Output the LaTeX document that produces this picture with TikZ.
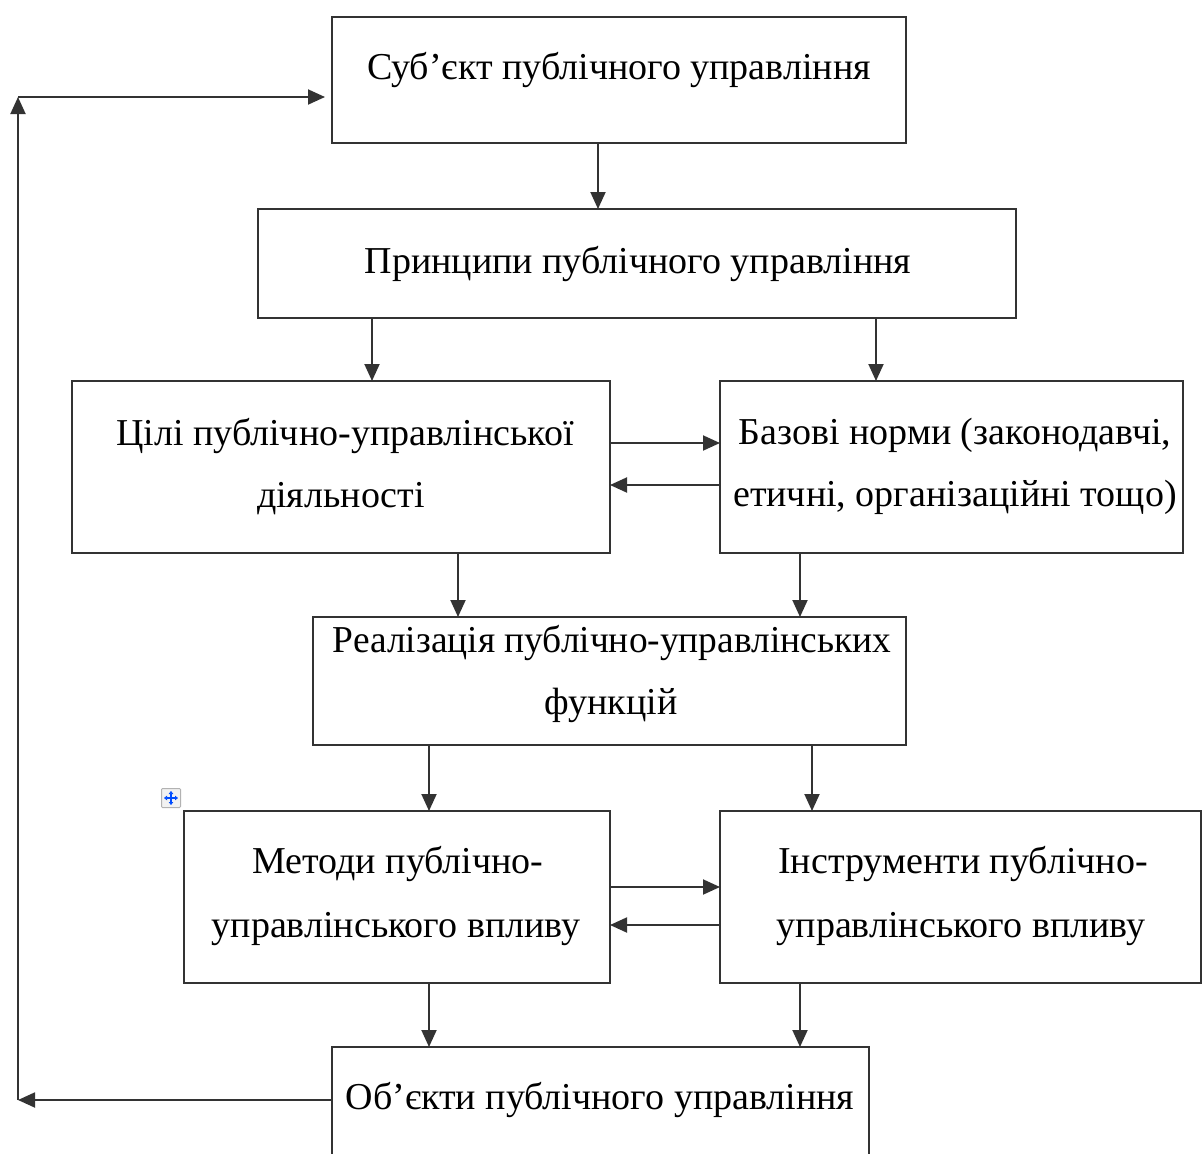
\documentclass[tikz,border=0pt]{standalone}
\usepackage{fontspec}
\setmainfont{Liberation Serif}
\usetikzlibrary{arrows.meta}
\tikzset{
  box/.style={draw=black!80, line width=1.9pt, inner sep=0pt, outer sep=0pt},
  txt/.style={anchor=base, inner sep=0pt, font=\fontsize{38}{44}\selectfont, text=black},
  arr/.style={draw=black!80, line width=1.9pt, -{Triangle[length=17pt,width=15pt]}},
}
\begin{document}
\begin{tikzpicture}[x=1pt,y=-1pt]
\clip (0,0) rectangle (1203,1154);
\fill[white] (0,0) rectangle (1203,1154);
% boxes
\node[box, minimum width=574pt, minimum height=126pt] (s) at (619,80) {};
\node[box, minimum width=758pt, minimum height=109pt] (p) at (637,263.5) {};
\node[box, minimum width=538pt, minimum height=172pt] (c) at (341,467) {};
\node[box, minimum width=463pt, minimum height=172pt] (b) at (951.5,467) {};
\node[box, minimum width=593pt, minimum height=128pt] (r) at (609.5,681) {};
\node[box, minimum width=426pt, minimum height=172pt] (m) at (397,897) {};
\node[box, minimum width=481pt, minimum height=172pt] (i) at (960.5,897) {};
\node[box, minimum width=537pt, minimum height=133pt] (o) at (600.5,1113.5) {};
% texts
\node[txt] (s-t) at (619,79) {Суб’єкт публічного управління};
\node[txt] (p-t) at (638,273) {Принципи публічного управління};
\node[txt] (c-t1) at (345,445) {Цілі публічно-управлінської};
\node[txt] (c-t2) at (341,507) {діяльності};
\node[txt] (b-t1) at (955,444) {Базові норми (законодавчі,};
\node[txt] (b-t2) at (955,506) {етичні, організаційні тощо)};
\node[txt] (r-t1) at (612,652) {\scalebox{0.985}[1]{Реалізація публічно-управлінських}};
\node[txt] (r-t2) at (611,714) {функцій};
\node[txt] (m-t1) at (398,873) {Методи публічно-};
\node[txt] (m-t2) at (396,937) {управлінського впливу};
\node[txt] (i-t1) at (963,873) {Інструменти публічно-};
\node[txt] (i-t2) at (961,937) {управлінського впливу};
\node[txt] (o-t) at (600,1109) {Об’єкти публічного управління};
% vertical arrows
\draw[arr] (s.south -| 598,0) -- (p.north -| 598,0);
\draw[arr] (p.south -| 372,0) -- (c.north -| 372,0);
\draw[arr] (p.south -| 876,0) -- (b.north -| 876,0);
\draw[arr] (c.south -| 458,0) -- (r.north -| 458,0);
\draw[arr] (b.south -| 800,0) -- (r.north -| 800,0);
\draw[arr] (r.south -| 429,0) -- (m.north -| 429,0);
\draw[arr] (r.south -| 812,0) -- (i.north -| 812,0);
\draw[arr] (m.south -| 429,0) -- (o.north -| 429,0);
\draw[arr] (i.south -| 800,0) -- (o.north -| 800,0);
% horizontal arrows
\draw[arr] (c.east |- 0,443) -- (b.west |- 0,443);
\draw[arr] (b.west |- 0,485) -- (c.east |- 0,485);
\draw[arr] (m.east |- 0,887) -- (i.west |- 0,887);
\draw[arr] (i.west |- 0,925) -- (m.east |- 0,925);
% feedback loop
\coordinate (fbL) at (18,1100);
\coordinate (fbT) at (18,97);
\draw[arr] (o.west |- 0,1100) -- (fbL);
\draw[arr] (fbL) -- (fbT);
\draw[arr, shorten >=7pt] (fbT) -- (s.west |- 0,97);
% move handle icon
\node[draw=black!30, fill=black!5, rounded corners=1pt, line width=1pt, minimum size=19pt, inner sep=0pt] (icon) at (171,798) {};
\draw[blue!70!cyan, line width=1.3pt, {Triangle[length=3pt,width=4.5pt]}-{Triangle[length=3pt,width=4.5pt]}] ([xshift=-7pt]icon.center) -- ([xshift=7pt]icon.center);
\draw[blue!70!cyan, line width=1.3pt, {Triangle[length=3pt,width=4.5pt]}-{Triangle[length=3pt,width=4.5pt]}] ([yshift=-7pt]icon.center) -- ([yshift=7pt]icon.center);
\end{tikzpicture}
\end{document}
